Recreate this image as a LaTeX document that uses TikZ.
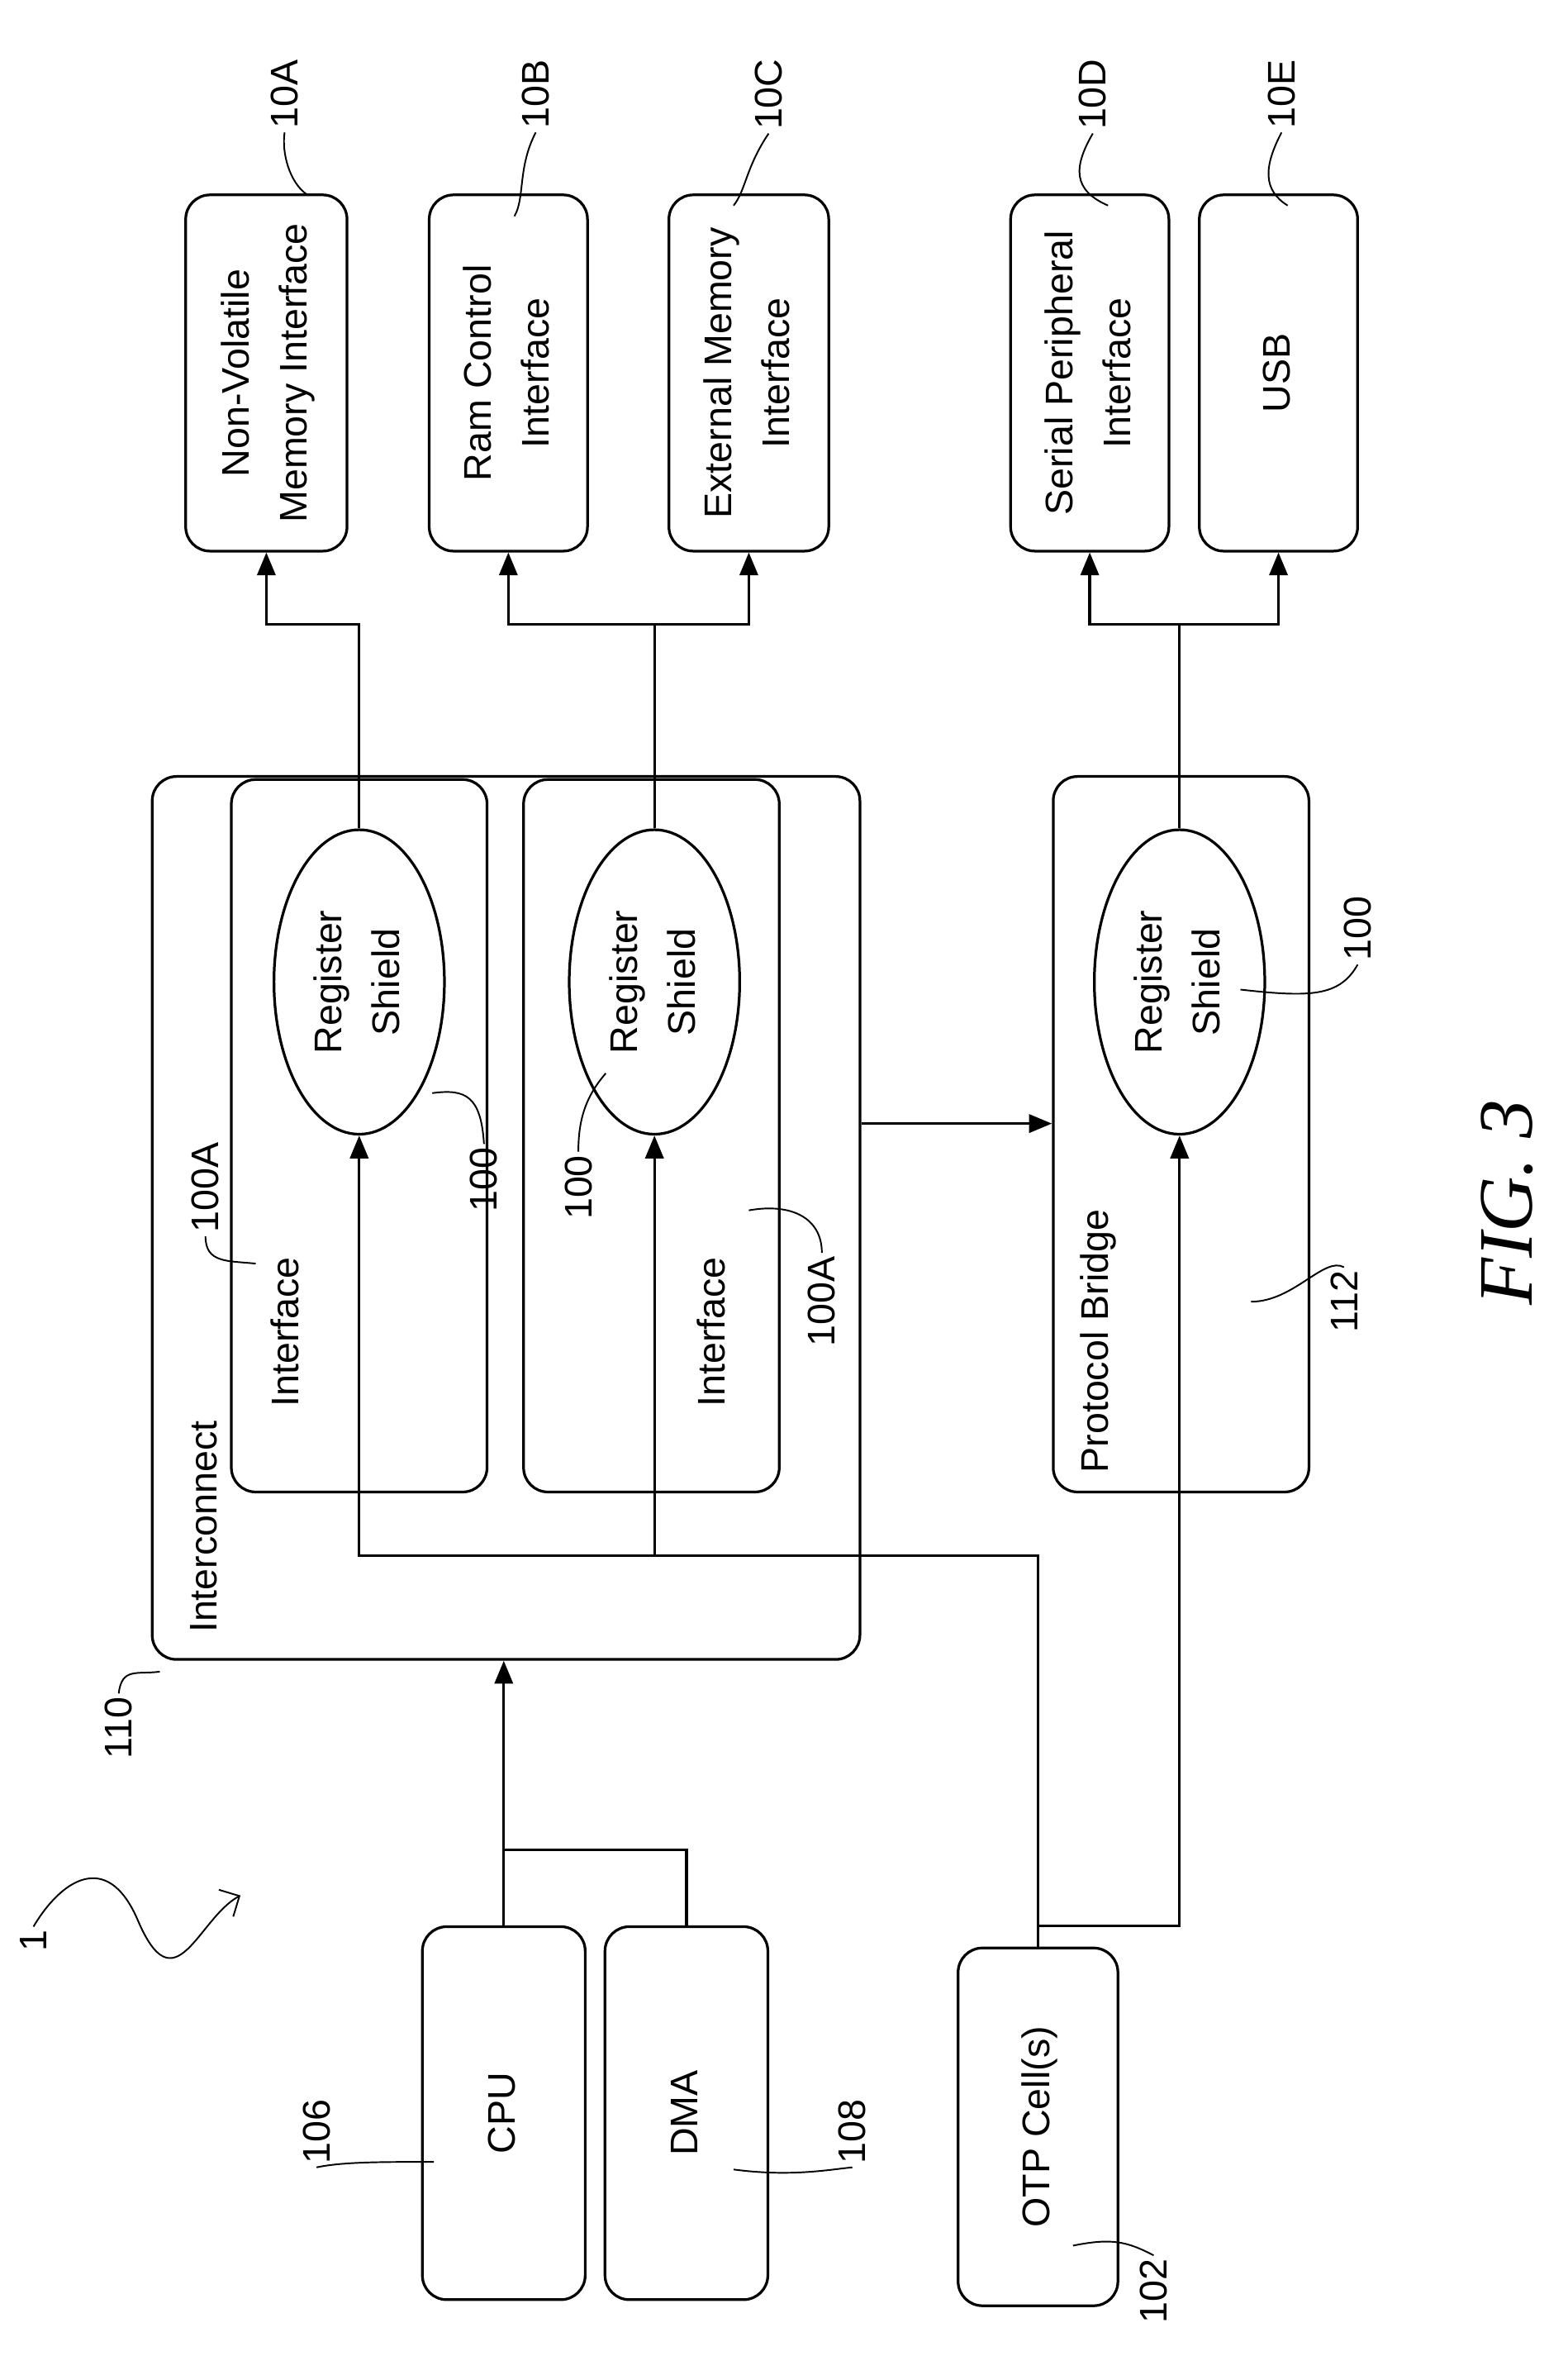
\documentclass[tikz,border=0pt]{standalone}
\usepackage{fontspec}
\setmainfont{Liberation Sans}
\newfontfamily\figfont{Liberation Serif}
\usetikzlibrary{shapes.geometric,arrows.meta}

\tikzset{
  box/.style={draw, line width=2.5pt, rounded corners=0.8cm, inner sep=0pt},
  shield/.style={draw, line width=2.5pt, ellipse, minimum width=5.6cm, minimum height=10cm, inner sep=0pt},
  wire/.style={line width=2.5pt, -{Triangle[length=0.75cm, width=0.6cm]}},
  plain/.style={line width=2.5pt},
  leader/.style={line width=1.5pt},
  lab/.style={rotate=90, font=\fontsize{36}{42}\selectfont}
}
\newcommand{\vtext}[1]{\rotatebox{90}{\fontsize{36}{54}\selectfont\begin{tabular}{c}#1\end{tabular}}}

\begin{document}
\begin{tikzpicture}[x=0.05cm, y=-0.05cm]
\useasboundingbox (0,0) rectangle (1030,1560);

% Target interfaces along the top
\node [box, minimum width=5.3cm, minimum height=11.7cm] (nvm) at (175,245) {\vtext{Non-Volatile\\Memory Interface}};
\node [box, minimum width=5.2cm, minimum height=11.7cm] (ram) at (334,245) {\vtext{Ram Control\\Interface}};
\node [box, minimum width=5.25cm, minimum height=11.7cm] (ext) at (492,245) {\vtext{External Memory\\Interface}};
\node [box, minimum width=5.2cm, minimum height=11.7cm] (spi) at (716,245) {\vtext{Serial Peripheral\\Interface}};
\node [box, minimum width=5.2cm, minimum height=11.7cm] (usb) at (840,245) {\vtext{USB}};

% Interconnect with its two interfaces
\node [box, minimum width=23.25cm, minimum height=29cm] (ic) at (332.5,800) {};
\node [box, minimum width=8.4cm, minimum height=23.4cm] (if1) at (236,746) {};
\node [box, minimum width=8.4cm, minimum height=23.4cm] (if2) at (428,746) {};
\node [box, minimum width=8.4cm, minimum height=23.5cm] (pb) at (776,745) {};
\node [shield] (rs1) at (236,645) {\vtext{Register\\Shield}};
\node [shield] (rs2) at (430,645) {\vtext{Register\\Shield}};
\node [shield] (rs3) at (775,645) {\vtext{Register\\Shield}};

\node [lab, anchor=south west] (tic) at (145,1075) {Interconnect};
\node [lab] (tif1) at (187,875) {Interface};
\node [lab] (tif2) at (467,875) {Interface};
\node [lab, anchor=south west] (tpb) at (736,970) {Protocol Bridge};

% Sources at the bottom
\node [box, minimum width=5.35cm, minimum height=12.25cm] (cpu) at (331,1388) {\vtext{CPU}};
\node [box, minimum width=5.35cm, minimum height=12.25cm] (dma) at (451,1388) {\vtext{DMA}};
\node [box, minimum width=5.25cm, minimum height=11.75cm] (otp) at (682,1397) {\vtext{OTP Cell(s)}};

% Connectors
\coordinate (up1) at (236,410);
\coordinate (up2) at (430,410);
\coordinate (up3) at (775,410);
\draw [wire] (rs1.north) -- (up1) -| (nvm.south);
\draw [wire] (rs2.north) -- (up2) -| (ram.south);
\draw [wire] (up2) -| (ext.south);
\draw [wire] (rs3.north) -- (up3) -| (spi.south);
\draw [wire] (up3) -| (usb.south);

\coordinate (bus) at (682,1022);
\coordinate (otpj) at (682,1265);
\draw [wire] (otp.north) -- (bus) -| (rs1.south);
\draw [wire] (rs2.south |- bus) -- (rs2.south);
\draw [wire] (otpj) -| (rs3.south);
\draw [wire] (ic.east |- 0,738) -- (pb.west |- 0,738);

\coordinate (cpuj) at (331,1215);
\draw [wire] (cpu.north) -- (cpu.north |- ic.south);
\draw [plain] (dma.north) |- (cpuj);

% Reference numerals
\node [lab] (n10a) at (187,62) {10A};
\node [lab] (n10b) at (352,62) {10B};
\node [lab] (n10c) at (505,62) {10C};
\node [lab] (n10d) at (718,62) {10D};
\node [lab] (n10e) at (842,62) {10E};
\draw [leader] (n10a.west) .. controls (185,100) and (190,120) .. (202,128);
\draw [leader] (n10b.west) .. controls (340,110) and (345,130) .. (338,142);
\draw [leader] (n10c.west) .. controls (490,110) and (490,125) .. (482,135);
\draw [leader] (n10d.west) .. controls (705,110) and (705,125) .. (728,135);
\draw [leader] (n10e.west) .. controls (830,110) and (830,125) .. (846,135);

\node [lab] (n110) at (78,1135) {110};
\node [lab] (n100a1) at (135,780) {100A};
\node [lab] (n100a) at (318,775) {100};
\node [lab] (n100b) at (380,780) {100};
\node [lab] (n100a2) at (540,855) {100A};
\node [lab] (n100c) at (892,610) {100};
\node [lab] (n112) at (883,855) {112};
\node [lab] (n106) at (208,1400) {106};
\node [lab] (n108) at (560,1400) {108};
\node [lab] (n102) at (758,1505) {102};
\node [lab] (n1) at (22,1275) {1};
\draw [leader] (n110.east) .. controls (80,1095) and (90,1100) .. (105,1098);
\draw [leader] (n100a1.west) .. controls (135,830) and (150,828) .. (168,830);
\draw [leader] (n100a.east) .. controls (316,720) and (306,715) .. (284,718);
\draw [leader] (n100b.east) .. controls (380,735) and (385,720) .. (398,705);
\draw [leader] (n100a2.east) .. controls (540,800) and (520,790) .. (492,795);
\draw [leader] (n100c.west) .. controls (880,655) and (860,655) .. (815,650);
\draw [leader] (n112.east) .. controls (870,825) and (850,855) .. (822,855);
\draw [leader] (n106.west) .. controls (225,1420) and (250,1420) .. (285,1420);
\draw [leader] (n108.west) .. controls (545,1425) and (520,1430) .. (482,1425);
\draw [leader] (n102.east) .. controls (740,1472) and (730,1470) .. (705,1475);
\draw [leader, -{Straight Barb[length=0.5cm]}] (n1.east) .. controls (40,1235) and (70,1215) .. (90,1260)
  .. controls (115,1320) and (130,1260) .. (158,1245);

\node [rotate=90, font=\fontsize{72}{80}\selectfont\figfont\itshape] (fig) at (990,790) {FIG. 3};
\end{tikzpicture}
\end{document}
